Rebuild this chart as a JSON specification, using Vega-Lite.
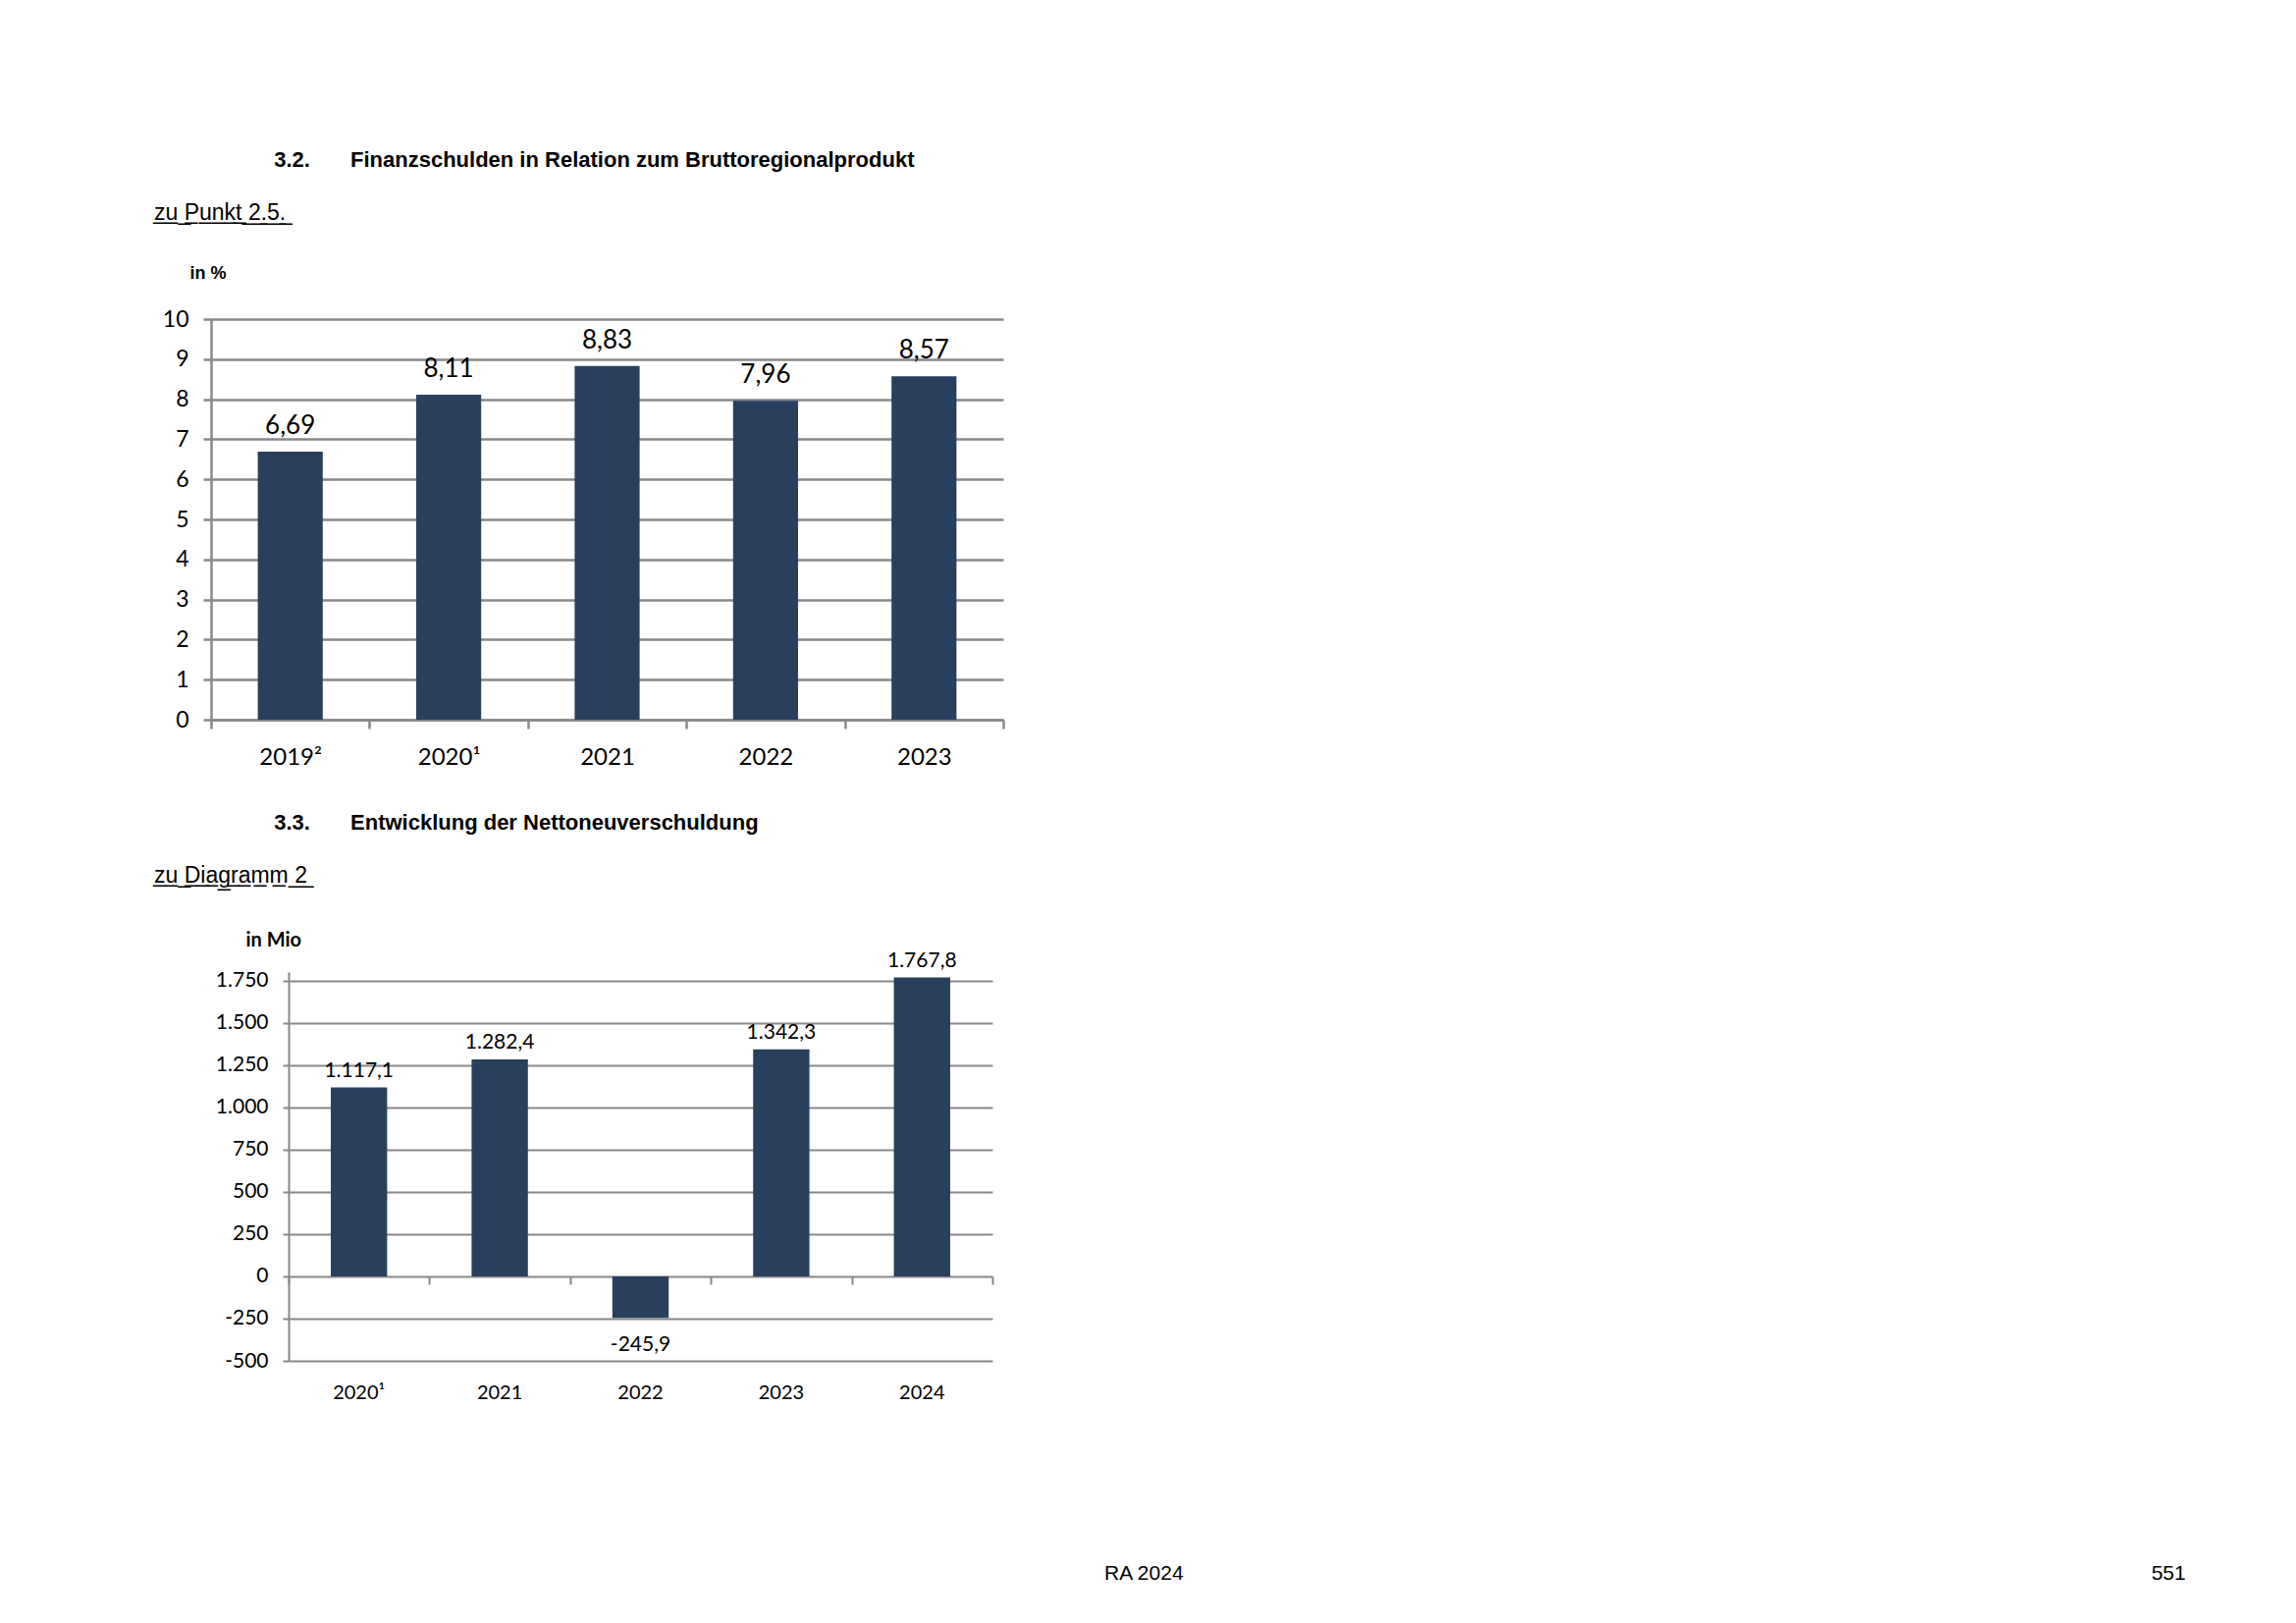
{
  "$schema": "https://vega.github.io/schema/vega-lite/v6.json",
  "background": "white",
  "padding": {"left": 157, "top": 152, "right": 10, "bottom": 10},
  "config": {
    "locale": {"number": {"decimal": ",", "thousands": ".", "grouping": [3], "currency": ["", " €"], "minus": "-"}},
    "view": {"stroke": null},
    "title": {"font": "Liberation Sans", "fontSize": 22, "fontWeight": "bold", "color": "#000000", "anchor": "start", "frame": "group", "subtitleFont": "Liberation Sans", "subtitleFontSize": 23, "subtitleColor": "#000000", "subtitlePadding": 31, "offset": 39},
    "axis": {"domainColor": "#888888", "tickColor": "#888888", "gridColor": "#888888", "labelColor": "#000000", "labelFont": "Lato", "titleColor": "#000000"}
  },
  "title": {
    "text": "RA 2024\u2003\u2003\u2003\u2003\u2003\u2003\u2003\u2003\u2003\u2003\u2003\u2003\u2003\u2003\u2003\u2003\u2003\u2003\u2003\u2003\u2003\u2003\u2003\u2003\u2003\u2003\u2003\u2003\u2003\u2003\u2003\u2003\u2003\u2003\u2003\u2003\u2003\u2003\u2003\u2003\u2003\u2003\u2003\u2003\u2003\u2003\u00a0\u00a0\u2009\u2009551",
    "orient": "bottom", "anchor": "start", "frame": "bounds", "dx": 968, "offset": 164,
    "font": "Liberation Sans", "fontSize": 21, "fontWeight": "normal"
  },
  "spacing": 44,
  "vconcat": [
    {
      "title": {
        "text": "\u200b\u00a0\u00a0\u00a0\u00a0\u00a0\u00a0\u00a0\u00a0\u00a0\u00a0\u00a0\u00a0\u00a0\u00a0\u00a0\u00a0\u00a0\u00a0\u00a0\u00a03.2.\u00a0\u00a0\u00a0\u00a0\u00a0\u00a0\u2009Finanzschulden in Relation zum Bruttoregionalprodukt",
        "subtitle": "z\u0332u\u0332\u00a0\u0332P\u0332u\u0332n\u0332k\u0332t\u0332\u00a0\u03322\u0332.\u03325\u0332.\u0332",
        "dx": -58
      },
      "width": 807,
      "height": 408,
      "data": {"values": [
        {"jahr": "2019²", "quote": 6.69},
        {"jahr": "2020¹", "quote": 8.11},
        {"jahr": "2021", "quote": 8.83},
        {"jahr": "2022", "quote": 7.96},
        {"jahr": "2023", "quote": 8.57}
      ]},
      "layer": [
        {
          "mark": {"type": "bar", "color": "#283F5E", "width": {"band": 0.41}},
          "encoding": {
            "x": {"field": "jahr", "type": "nominal", "sort": null,
              "scale": {"paddingInner": 0, "paddingOuter": 0},
              "axis": {"title": null, "labelAngle": 0, "labelFontSize": 24, "tickBand": "extent", "tickSize": 9, "tickWidth": 2.5, "domainWidth": 2.5, "labelPadding": 17, "grid": false}},
            "y": {"field": "quote", "type": "quantitative",
              "scale": {"domain": [0, 10], "nice": false},
              "axis": {"values": [0, 1, 2, 3, 4, 5, 6, 7, 8, 9, 10], "format": "d", "title": "in %", "titleAngle": 0, "titleAlign": "left", "titleBaseline": "alphabetic", "titleX": -22, "titleY": -42, "titleFont": "Liberation Sans", "titleFontSize": 18, "titleFontWeight": "bold", "labelFontSize": 23, "labelPadding": 15, "tickSize": 8, "tickWidth": 2.5, "domainWidth": 2.5, "gridWidth": 2.5}}
          }
        },
        {
          "mark": {"type": "text", "font": "Lato", "fontSize": 26, "baseline": "alphabetic", "dy": -18, "color": "#000000"},
          "encoding": {
            "x": {"field": "jahr", "type": "nominal", "sort": null},
            "y": {"field": "quote", "type": "quantitative"},
            "text": {"field": "quote", "type": "quantitative", "format": ".2f"}
          }
        }
      ]
    },
    {
      "title": {
        "text": "\u200b\u00a0\u00a0\u00a0\u00a0\u00a0\u00a0\u00a0\u00a0\u00a0\u00a0\u00a0\u00a0\u00a0\u00a0\u00a0\u00a0\u00a0\u00a0\u00a0\u00a03.3.\u00a0\u00a0\u00a0\u00a0\u00a0\u00a0\u2009Entwicklung der Nettoneuverschuldung",
        "subtitle": "z\u0332u\u0332\u00a0\u0332D\u0332i\u0332a\u0332g\u0332r\u0332a\u0332m\u0332m\u0332\u00a0\u03322\u0332",
        "dx": -58,
        "offset": 42
      },
      "width": 796,
      "height": 396,
      "data": {"values": [
        {"jahr": "2020¹", "wert": 1117.1},
        {"jahr": "2021", "wert": 1282.4},
        {"jahr": "2022", "wert": -245.9},
        {"jahr": "2023", "wert": 1342.3},
        {"jahr": "2024", "wert": 1767.8}
      ]},
      "resolve": {"axis": {"x": "independent"}},
      "layer": [
        {
          "mark": {"type": "bar", "color": "#283F5E", "width": {"band": 0.4}},
          "encoding": {
            "x": {"field": "jahr", "type": "nominal", "sort": null,
              "scale": {"paddingInner": 0, "paddingOuter": 0, "range": [79, 796]},
              "axis": {"orient": "bottom", "title": null, "labels": false, "domain": false, "tickBand": "extent", "tickSize": 8, "tickWidth": 2, "offset": -86, "grid": false}},
            "y": {"field": "wert", "type": "quantitative",
              "scale": {"domain": [-500, 1800], "nice": false},
              "axis": {"offset": -79, "values": [-500, -250, 0, 250, 500, 750, 1000, 1250, 1500, 1750], "format": ",d", "title": "in Mio", "titleAngle": 0, "titleAlign": "left", "titleBaseline": "alphabetic", "titleX": -44, "titleY": -27, "titleFont": "Lato", "titleFontSize": 20, "titleFontWeight": "bold", "labelFontSize": 21, "labelPadding": 15, "tickSize": 6, "tickWidth": 2, "domainWidth": 2, "gridWidth": 2}}
          }
        },
        {
          "transform": [{"filter": "datum.wert >= 0"}],
          "mark": {"type": "text", "font": "Lato", "fontSize": 21, "baseline": "alphabetic", "dy": -11, "color": "#000000"},
          "encoding": {
            "x": {"field": "jahr", "type": "nominal", "sort": null,
              "axis": {"orient": "bottom", "title": null, "labelAngle": 0, "labelFontSize": 20, "domain": false, "ticks": false, "labelPadding": 22, "grid": false}},
            "y": {"field": "wert", "type": "quantitative"},
            "text": {"field": "wert", "type": "quantitative", "format": ",.1f"}
          }
        },
        {
          "transform": [{"filter": "datum.wert < 0"}],
          "mark": {"type": "text", "font": "Lato", "fontSize": 21, "baseline": "top", "dy": 17, "color": "#000000"},
          "encoding": {
            "x": {"field": "jahr", "type": "nominal", "sort": null, "axis": null},
            "y": {"field": "wert", "type": "quantitative"},
            "text": {"field": "wert", "type": "quantitative", "format": ",.1f"}
          }
        }
      ]
    }
  ]
}
